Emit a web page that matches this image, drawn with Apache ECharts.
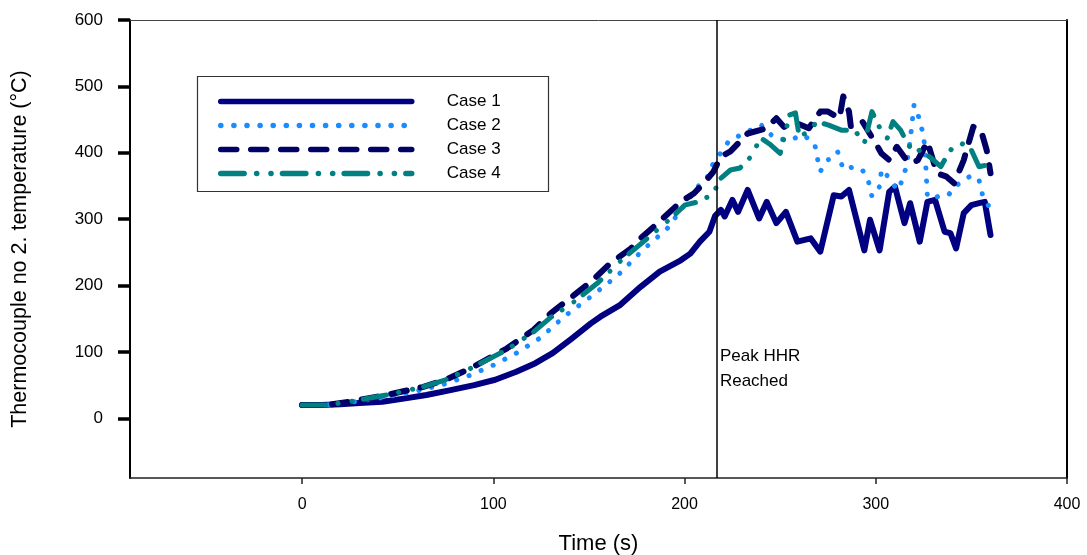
<!DOCTYPE html>
<html>
<head>
<meta charset="utf-8">
<script src="https://cdn.jsdelivr.net/npm/echarts@6/dist/echarts.min.js"></script>
<style>
  html, body { margin: 0; padding: 0; background: #fff; }
  #chart { width: 1087px; height: 555px; }
</style>
</head>
<body>
<div id="chart"></div>
<script>
// values
var case1Time = [0, 10, 20, 30, 42, 54, 65, 77, 90, 101, 112, 122, 131, 141, 151, 156, 166, 177, 187, 198, 203, 208, 213, 216, 219, 221, 225, 228, 233, 239, 243, 248, 253, 259, 266, 271, 278, 282, 286, 294, 297, 302, 307, 310, 315, 318, 323, 327, 331, 336, 339, 342, 346, 350, 354, 357, 360];
var case1Temp = [20, 20, 21, 23, 25, 30, 35, 42, 50, 58, 70, 83, 98, 120, 143, 153, 170, 198, 221, 238, 248, 266, 281, 305, 314, 304, 329, 311, 344, 301, 326, 294, 311, 266, 271, 251, 336, 334, 344, 253, 299, 253, 341, 349, 294, 324, 266, 326, 329, 281, 279, 256, 309, 321, 324, 326, 276];

var case2Time = [0, 13, 25, 44, 63, 75, 88, 100, 112, 125, 137, 150, 165, 178, 191, 200, 207, 212, 215, 220, 223, 226, 231, 240, 247, 255, 262, 268, 270, 271, 275, 280, 283, 289, 293, 296, 298, 302, 303, 308, 310, 312, 316, 318, 320, 322, 323, 325, 326, 327, 330, 334, 338, 341, 345, 350, 354, 356, 359];
var case2Temp = [20, 20, 24, 32, 43, 52, 65, 80, 98, 122, 153, 181, 215, 253, 286, 321, 349, 364, 384, 404, 417, 422, 429, 442, 422, 419, 427, 414, 384, 372, 389, 402, 375, 379, 374, 359, 334, 349, 375, 359, 349, 344, 379, 419, 472, 460, 444, 429, 389, 334, 331, 336, 336, 349, 356, 366, 359, 334, 320];

var case3Time = [0, 13, 25, 44, 63, 75, 88, 107, 121, 130, 142, 152, 161, 172, 177, 186, 198, 205, 210, 215, 219, 224, 233, 243, 248, 252, 259, 265, 271, 275, 281, 283, 286, 287, 293, 300, 303, 307, 311, 316, 319, 322, 327, 332, 337, 341, 346, 351, 355, 358, 360];
var case3Temp = [20, 20, 25, 35, 47, 58, 75, 105, 133, 158, 185, 208, 233, 256, 271, 294, 326, 339, 354, 371, 394, 402, 429, 437, 452, 439, 444, 437, 462, 462, 452, 485, 462, 439, 447, 414, 399, 389, 409, 389, 384, 389, 417, 369, 364, 354, 389, 439, 434, 404, 369];

var case4Time = [0, 13, 25, 44, 63, 75, 88, 107, 121, 130, 142, 155, 168, 181, 194, 200, 207, 211, 215, 218, 224, 229, 234, 240, 245, 250, 255, 258, 260, 266, 269, 275, 282, 289, 294, 298, 303, 306, 309, 313, 316, 320, 323, 329, 334, 337, 341, 345, 350, 354, 359];
var case4Temp = [20, 20, 25, 35, 47, 58, 75, 103, 130, 152, 175, 205, 241, 272, 304, 321, 326, 332, 336, 359, 374, 377, 392, 422, 412, 399, 457, 460, 424, 434, 447, 442, 434, 434, 414, 462, 432, 422, 447, 434, 417, 399, 404, 392, 379, 394, 412, 414, 404, 379, 382];

var caseNames = ['Case 1', 'Case 2', 'Case 3', 'Case 4'];
var xTicks = [0, 100, 200, 300, 400];
var yTicks = [0, 100, 200, 300, 400, 500, 600];
var peakTime = 217;
var peakLabel = 'Peak HHR\nReached';

function pairs(t, v) {
    var out = [];
    for (var i = 0; i < t.length; i++) {
        out.push([t[i], v[i]]);
    }
    return out;
}

var font = 'Arial, "Liberation Sans", sans-serif';
var myChart = echarts.init(document.getElementById('chart'), null, { renderer: 'canvas' });

var option = {
    backgroundColor: '#FFFFFF',
    animation: false,
    grid: { left: 130, right: 20, top: 20, bottom: 77, containLabel: false, outerBoundsMode: 'none' },
    legend: {
        orient: 'vertical',
        left: 213,
        top: 88,
        itemWidth: 191,
        itemHeight: 14,
        itemGap: 7,
        data: caseNames,
        itemStyle: { opacity: 0 },
        lineStyle: { width: 5.5 },
        textStyle: { fontFamily: font, fontSize: 17, color: '#000', padding: [0, 0, 0, 30] }
    },
    graphic: [{
        type: 'rect',
        shape: { x: 197.5, y: 76.5, width: 351, height: 115 },
        style: { fill: 'none', stroke: '#333', lineWidth: 1.2 },
        z: 1
    }],
    xAxis: [{
        type: 'value',
        min: -90,
        max: 400,
        name: 'Time (s)',
        nameLocation: 'middle',
        nameGap: 55,
        nameTextStyle: { fontFamily: font, fontSize: 22, color: '#000' },
        axisLine: { show: true, onZero: false, lineStyle: { color: '#222', width: 1.5 } },
        axisTick: { show: true, length: 6, customValues: xTicks, lineStyle: { color: '#222', width: 1.5 } },
        axisLabel: { customValues: xTicks, margin: 19, fontFamily: font, fontSize: 16, color: '#000' },
        splitLine: { show: false }
    }, {
        type: 'value',
        position: 'top',
        min: -90,
        max: 400,
        axisLine: { show: true, onZero: false, lineStyle: { color: '#444', width: 1 } },
        axisTick: { show: false },
        axisLabel: { show: false },
        splitLine: { show: false }
    }],
    yAxis: [{
        type: 'value',
        min: -90,
        max: 600,
        name: 'Thermocouple no 2. temperature (°C)',
        nameLocation: 'middle',
        nameGap: 99,
        nameTextStyle: { fontFamily: font, fontSize: 21.5, color: '#000' },
        axisLine: { show: true, onZero: false, lineStyle: { color: '#000', width: 2 } },
        axisTick: { show: true, length: 12, customValues: yTicks, lineStyle: { color: '#000', width: 3.5 } },
        axisLabel: { customValues: yTicks, margin: 27, fontFamily: font, fontSize: 17, color: '#000' },
        splitLine: { show: false }
    }, {
        type: 'value',
        position: 'right',
        min: -90,
        max: 600,
        axisLine: { show: true, onZero: false, lineStyle: { color: '#000', width: 2 } },
        axisTick: { show: false },
        axisLabel: { show: false },
        splitLine: { show: false }
    }],
    series: [{
        name: 'Case 1',
        type: 'line',
        symbol: 'none',
        data: pairs(case1Time, case1Temp),
        itemStyle: { color: '#000080' },
        lineStyle: { color: '#000080', width: 6, cap: 'round', join: 'round' },
        markLine: {
            silent: true,
            symbol: 'none',
            label: { show: false },
            lineStyle: { color: '#000', width: 1.5, type: 'solid' },
            data: [{ xAxis: peakTime }]
        },
        markPoint: {
            silent: true,
            symbol: 'circle',
            symbolSize: 0,
            data: [{ coord: [218.5, 74.5] }],
            label: {
                show: true,
                position: 'inside',
                formatter: peakLabel,
                align: 'left',
                verticalAlign: 'middle',
                lineHeight: 25,
                fontFamily: font,
                fontSize: 17,
                color: '#000'
            }
        }
    }, {
        name: 'Case 2',
        type: 'line',
        symbol: 'none',
        data: pairs(case2Time, case2Temp),
        itemStyle: { color: '#1a8cff' },
        lineStyle: { color: '#1a8cff', width: 5, type: [0.1, 13], cap: 'round', join: 'round' }
    }, {
        name: 'Case 3',
        type: 'line',
        symbol: 'none',
        data: pairs(case3Time, case3Temp),
        itemStyle: { color: '#000066' },
        lineStyle: { color: '#000066', width: 6, type: [16, 14], cap: 'round', join: 'round' }
    }, {
        name: 'Case 4',
        type: 'line',
        symbol: 'none',
        data: pairs(case4Time, case4Temp),
        itemStyle: { color: '#008080' },
        lineStyle: { color: '#008080', width: 5, type: [23.4, 12.5, 0.1, 14.2, 0.1, 11.4], cap: 'round', join: 'round' }
    }]
};

if (option && typeof option === 'object') {
    myChart.setOption(option);
}
</script>
</body>
</html>
